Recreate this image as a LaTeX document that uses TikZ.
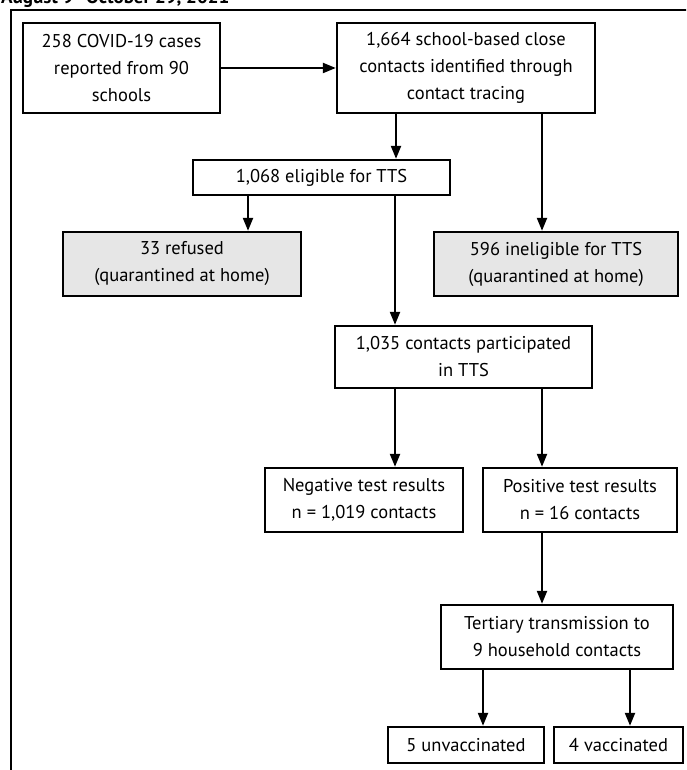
\documentclass[tikz,border=0pt]{standalone}
\usepackage{fontspec}
\setmainfont{PT Sans}
\usetikzlibrary{arrows.meta}
\definecolor{boxgray}{HTML}{E6E6E6}
\tikzset{
  box/.style={draw=black, line width=2.4pt, align=center, inner sep=0pt,
    font=\fontsize{18.5}{27}\selectfont},
  graybox/.style={box, fill=boxgray},
  arr/.style={line width=2.2pt, -{Triangle[length=13pt,width=10pt]}},
  frame/.style={line width=2.4pt}
}
\begin{document}
\begin{tikzpicture}[x=1pt,y=-1pt]
\useasboundingbox (0,0) rectangle (686,770);
\begin{scope}
\clip (0,0) rectangle (686,770);
\node[anchor=base west, inner sep=0pt, font=\fontsize{19}{22}\bfseries\selectfont] (title) at (1,4) {August 9–October 29, 2021};
\draw[frame] (11,775) -- (11,10) -- (690,10);
\end{scope}

\node[box, minimum width=197pt, minimum height=90pt] (b1) at (121.5,68) {258 COVID-19 cases\\reported from 90\\schools};
\node[box, minimum width=258pt, minimum height=90pt] (b2) at (466,68) {1,664 school-based close\\contacts identified through\\contact tracing};
\node[box, minimum width=257pt, minimum height=35pt] (b3) at (321.5,177.5) {1,068 eligible for TTS};
\node[graybox, minimum width=238pt, minimum height=64pt] (ref) at (182,264) {33 refused\\(quarantined at home)};
\node[graybox, minimum width=244pt, minimum height=64pt] (inel) at (556,264) {596 ineligible for TTS\\(quarantined at home)};
\node[box, minimum width=257pt, minimum height=62pt] (part) at (463.5,357) {1,035 contacts participated\\in TTS};
\node[box, minimum width=198pt, minimum height=64pt] (neg) at (364,500) {Negative test results\\n = 1,019 contacts};
\node[box, minimum width=194pt, minimum height=64pt] (pos) at (580,500) {Positive test results\\n = 16 contacts};
\node[box, minimum width=232pt, minimum height=64pt] (tert) at (557,637) {Tertiary transmission to\\9 household contacts};
\node[box, minimum width=156pt, minimum height=36pt] (unvac) at (466,745) {5 unvaccinated};
\node[box, minimum width=129pt, minimum height=36pt] (vac) at (618.5,745) {4 vaccinated};

\coordinate (xa) at (396,0);
\coordinate (xb) at (542,0);
\coordinate (xc) at (248,0);
\coordinate (xd) at (395,0);
\coordinate (xe) at (483,0);
\coordinate (xf) at (630,0);

\draw[arr] (b1.east) -- (b2.west);
\draw[arr] (xa |- b2.south) -- (xa |- b3.north);
\draw[arr] (xb |- b2.south) -- (xb |- inel.north);
\draw[arr] (xc |- b3.south) -- (xc |- ref.north);
\draw[arr] (xd |- b3.south) -- (xd |- part.north);
\draw[arr] (xd |- part.south) -- (xd |- neg.north);
\draw[arr] (xb |- part.south) -- (xb |- pos.north);
\draw[arr] (xb |- pos.south) -- (xb |- tert.north);
\draw[arr] (xe |- tert.south) -- (xe |- unvac.north);
\draw[arr] (xf |- tert.south) -- (xf |- vac.north);
\end{tikzpicture}
\end{document}
